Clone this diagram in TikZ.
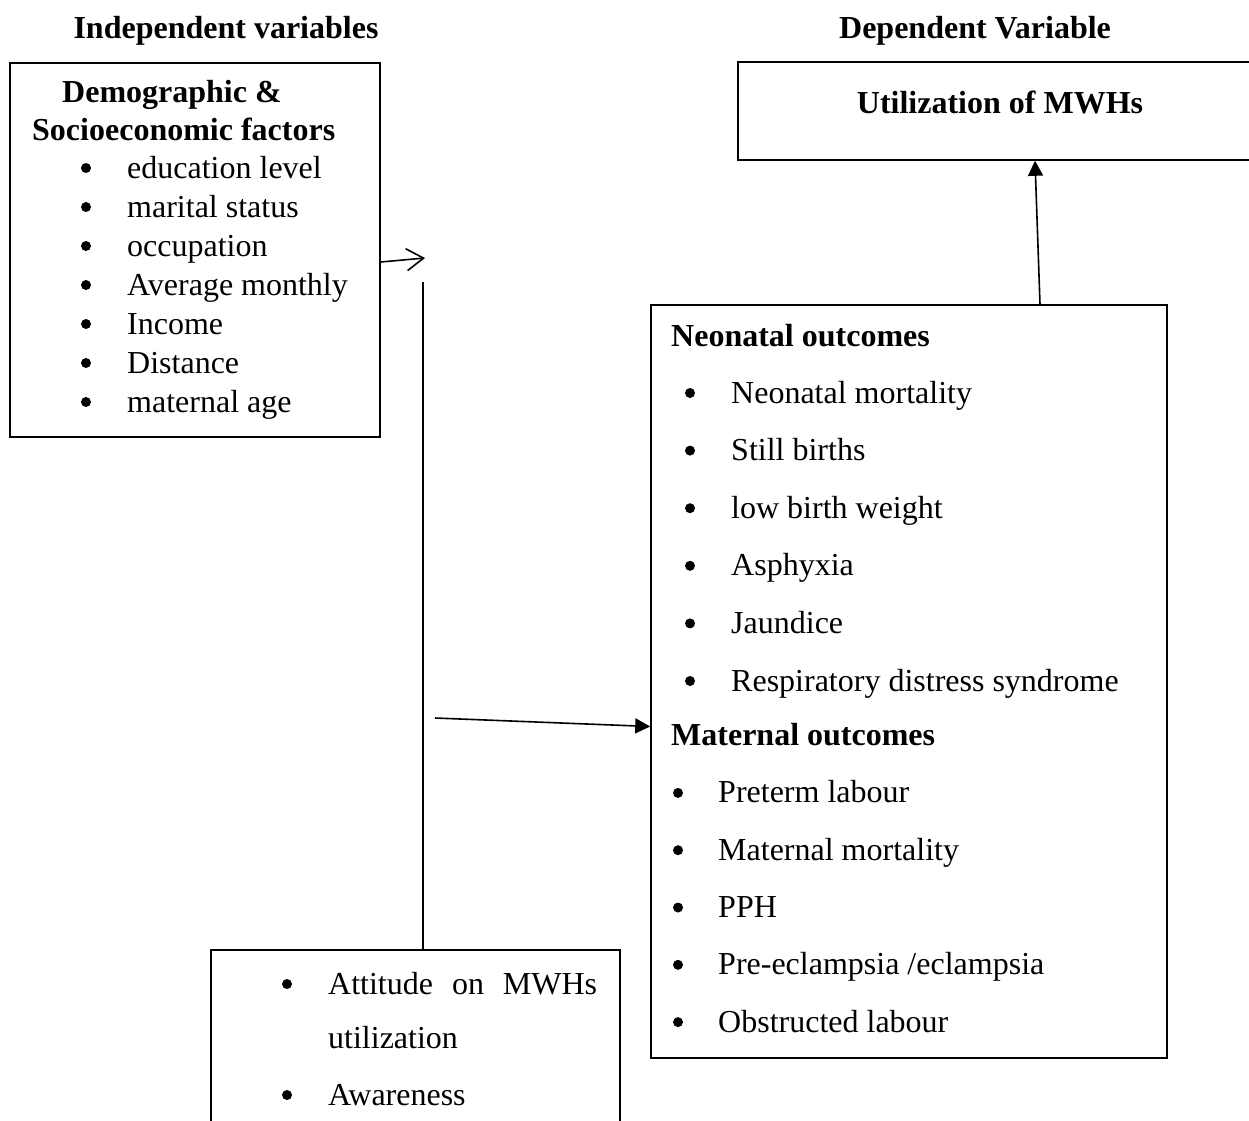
\documentclass[tikz,border=0pt]{standalone}
\usepackage{fontspec}
\setmainfont{Liberation Serif}
\usetikzlibrary{arrows.meta}

\begin{document}
\begin{tikzpicture}[x=1pt, y=-1pt,
    box/.style={draw, line width=1.6pt, inner sep=0pt},
    txt/.style={anchor=base west, inner sep=0pt, font=\fontsize{32}{38}\selectfont},
    hd/.style={txt, font=\fontsize{32}{38}\selectfont\bfseries},
    dot/.style={circle, fill, inner sep=0pt, minimum size=10pt},
    link/.style={line width=1.6pt}]
        \useasboundingbox (0,0) rectangle (1249,1120);
        % headings
        \node[hd, anchor=base] (indep) at (226,38) {Independent variables};
        \node[hd, anchor=base] (dep) at (975,38) {Dependent Variable};
        % boxes
        \node[box, minimum width=370pt, minimum height=374pt] (dem) at (195,250) {};
        \node[box, minimum width=524pt, minimum height=98pt] (util) at (1000,111) {};
        \node[box, minimum width=516pt, minimum height=753pt] (out) at (909,681.5) {};
        \node[box, minimum width=409pt, minimum height=190pt] (att) at (415.5,1045) {};
        % demographic box
        \node[hd] (demhead) at (62,102) {Demographic \&};
        \node[hd] (sochead) at (32,140) {Socioeconomic factors};
        \foreach \lbl [count=\i] in {education level, marital status, occupation, Average monthly, Income, Distance, maternal age} {
            \node[dot] (demdot\i) at (86, 129+39*\i) {};
            \node[txt] (demitem\i) at (127, 139+39*\i) {\lbl};
        }
        % dependent variable
        \node[hd, anchor=base] (utiltext) at (1000,113) {Utilization of MWHs};
        % outcomes box
        \node[hd] (neohead) at (671,346) {Neonatal outcomes};
        \foreach \lbl [count=\i] in {Neonatal mortality, Still births, low birth weight, Asphyxia, Jaundice, Respiratory distress syndrome} {
            \node[dot] (neodot\i) at (690, 335.4+57.6*\i) {};
            \node[txt] (neoitem\i) at (731, 345.4+57.6*\i) {\lbl};
        }
        \node[hd] (mathead) at (671,745) {Maternal outcomes};
        \foreach \lbl [count=\i] in {Preterm labour, Maternal mortality, PPH, Pre-eclampsia /eclampsia, Obstructed labour} {
            \node[dot] (matdot\i) at (678, 735.6+57.3*\i) {};
            \node[txt] (matitem\i) at (718, 745.6+57.3*\i) {\lbl};
        }
        % attitude box
        \node[dot] (attdot1) at (287,984) {};
        \node[txt] (attitem1) at (328,994) {\makebox[269pt][s]{Attitude on MWHs}};
        \node[txt] (attitem2) at (328,1048) {utilization};
        \node[dot] (attdot2) at (287,1095) {};
        \node[txt] (attitem3) at (328,1105) {Awareness};
        % connectors
        \coordinate (tip) at (425,258);
        \coordinate (vtop) at (423,282);
        \coordinate (mid) at (435,718);
        \draw[link, -{Straight Barb[length=17pt, width=22pt]}] ([yshift=-12pt]dem.east) -- (tip);
        \draw[link] (vtop) -- (vtop |- att.north);
        \draw[link, -{Triangle[length=15pt, width=15pt]}] (mid) -- ([yshift=-45pt]out.west);
        \draw[link, -{Triangle[length=15pt, width=15pt]}] ([xshift=131pt]out.north) -- ([xshift=35pt]util.south);
\end{tikzpicture}
\end{document}
